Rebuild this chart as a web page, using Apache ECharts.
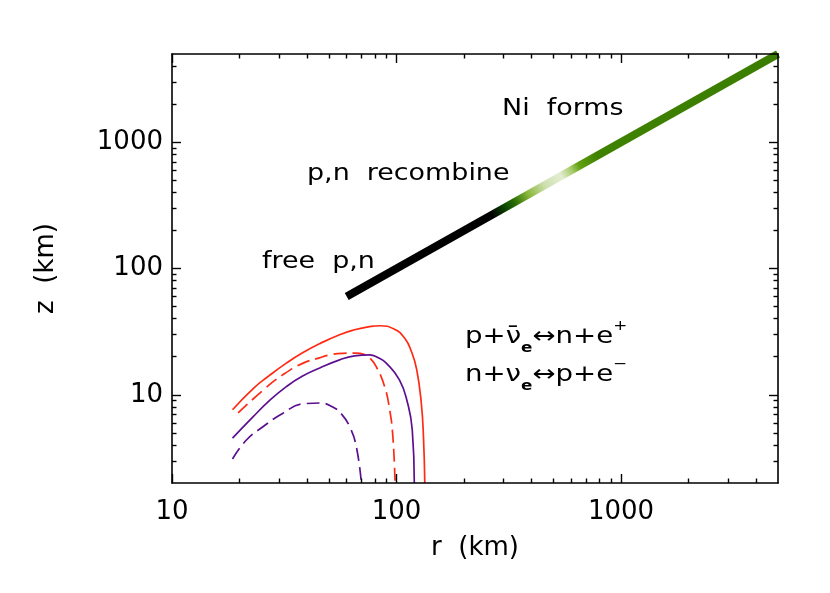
<!DOCTYPE html>
<html><head><meta charset="utf-8">
<script src="https://cdn.jsdelivr.net/npm/echarts@6/dist/echarts.min.js"></script>
<style>html,body{margin:0;padding:0;background:#fff}#c{width:830px;height:593px}</style>
</head><body><div id="c"></div>
<script>
// axis ticks
const xMajorTicks = [10, 100, 1000];
const yMajorTicks = [10, 100, 1000];
const xMinorTicks = [20,30,40,50,60,70,80,90,200,300,400,500,600,700,800,900,2000,3000,4000];
const yMinorTicks = [3,4,5,6,7,8,9,20,30,40,50,60,70,80,90,200,300,400,500,600,700,800,900,2000,3000,4000];

// red solid
const redSolidR = [18.6, 23, 27, 32.3, 38, 45.5, 55.8, 65, 75, 84, 97.9, 108.6, 116.6, 123, 128.9, 131.8, 133.6];
const redSolidZ = [7.6, 11.2, 14.1, 17.8, 21.4, 25.4, 29.9, 32.7, 34.5, 35.2, 33.0, 28.1, 21.9, 15.8, 8.6, 4.66, 2];
// red dashed
const redDashR = [19.7, 25.5, 31, 38.4, 45, 50.4, 58, 66, 72, 76, 81.2, 88.5, 93.2, 96.3, 98.5];
const redDashZ = [7.2, 10.9, 14.3, 17.8, 19.5, 20.7, 21.3, 21.4, 20.8, 19.6, 16.7, 11.6, 7.6, 4.66, 2];
// purple solid
const purpSolidR = [18.6, 23, 27, 32.3, 38, 45.5, 55.8, 65, 75.9, 83, 90, 103, 112, 117.5, 120];
const purpSolidZ = [4.53, 6.7, 8.9, 11.6, 14, 16.3, 18.9, 20.3, 20.7, 19.6, 17.8, 13.1, 8.6, 5.27, 2];
// purple dashed
const purpDashR = [18.6, 21.5, 25.5, 31.2, 38.4, 45.5, 52, 57, 61.8, 66.2, 69.7];
const purpDashZ = [3.1, 4.4, 5.6, 7.15, 8.47, 8.6, 8.0, 7.0, 5.6, 3.88, 2];
// diagonal track
const diagR = [60, 5000];
const diagZ = [60, 5000];
const diagStopR = [60, 270, 310, 340, 390, 460, 540, 600, 650, 780, 5000];
const diagStopColor = ['#000000','#000000','#0b4a00','#2b6e05','#8ab83a','#cfe0b0','#e3edd2','#a8cc6a','#62a010','#3f8200','#3a7d00'];

const FONT = '"DejaVu Sans", "Liberation Sans", sans-serif';
const zip = (a, b) => a.map((v, i) => [v, b[i]]);
const lmin = Math.log10(diagR[0]), lmax = Math.log10(diagR[diagR.length - 1]);
const colorStops = diagStopR.map((r, i) => ({offset: (Math.log10(r) - lmin) / (lmax - lmin), color: diagStopColor[i]}));

function axis(dir, pos, major, withLabel) {
  const isX = dir === 'x';
  return {
    type: 'log', logBase: 10, position: pos, gridIndex: 0,
    min: isX ? 10 : 2, max: 5000,
    axisLine: {show: major, onZero: false, lineStyle: {color: '#000', width: 1.6}},
    axisTick: {show: true, inside: true, length: major ? 9 : 4.5,
      customValues: major ? (isX ? xMajorTicks : yMajorTicks) : (isX ? xMinorTicks : yMinorTicks),
      lineStyle: {color: '#000', width: 1.4}},
    axisLabel: withLabel ? {show: true, customValues: isX ? xMajorTicks : yMajorTicks,
      formatter: v => String(Math.round(v)), color: '#000', fontSize: 26, fontFamily: FONT,
      margin: isX ? 16 : 9} : {show: false},
    splitLine: {show: false}, minorTick: {show: false}, minorSplitLine: {show: false},
    name: withLabel ? (isX ? 'r  (km)' : 'z  (km)') : '',
    nameLocation: 'middle', nameGap: isX ? 52 : 113,
    nameTextStyle: {color: '#000', fontSize: 26, fontFamily: FONT},
    z: 10
  };
}

const chart = echarts.init(document.getElementById('c'), null, {renderer: 'canvas'});
const txt = (s, x, y, sx) => ({type: 'text', x: x, y: y, scaleX: sx, z: 20,
  style: {text: s, font: '23px ' + FONT, fill: '#000', verticalAlign: 'middle', align: 'left'}});
const rich = {
  m: {fontSize: 23, fontFamily: FONT, color: '#000', lineHeight: 36, verticalAlign: 'middle'},
  s: {fontSize: 14, fontFamily: FONT, fontWeight: 'bold', color: '#000', lineHeight: 18, verticalAlign: 'bottom'},
  u: {fontSize: 14, fontFamily: FONT, color: '#000', lineHeight: 18, verticalAlign: 'top'}
};
const rtxt = (s, x, y, sx) => ({type: 'text', x: x, y: y, scaleX: sx, z: 20,
  style: {text: s, rich: rich, font: '23px ' + FONT, fill: '#000', verticalAlign: 'middle', align: 'left'}});

const curve = (r, z, color, dashed) => ({type: 'line', data: zip(r, z), showSymbol: false,
  smooth: 0.5,
  lineStyle: {width: 1.7, color: color, type: dashed ? [13, 6] : 'solid'}});

chart.setOption({
  animation: false,
  backgroundColor: '#fff',
  grid: {left: 172, right: 52, top: 54, bottom: 110, containLabel: false},
  xAxis: [axis('x', 'bottom', true, true), axis('x', 'bottom', false, false), axis('x', 'top', true, false), axis('x', 'top', false, false)],
  yAxis: [axis('y', 'left', true, true), axis('y', 'left', false, false), axis('y', 'right', true, false), axis('y', 'right', false, false)],
  series: [
    {type: 'line', data: zip(diagR, diagZ), showSymbol: false, clip: true,
     lineStyle: {width: 8, cap: 'butt', color: {type: 'linear', x: 0, y: 1, x2: 1, y2: 0, colorStops: colorStops}}},
    curve(redSolidR, redSolidZ, '#ff2a14', false),
    curve(redDashR, redDashZ, '#ff2a14', true),
    curve(purpSolidR, purpSolidZ, '#5c1090', false),
    curve(purpDashR, purpDashZ, '#5c1090', true)
  ],
  graphic: [
    txt('Ni  forms', 502, 109, 1.17),
    txt('p,n  recombine', 307, 174, 1.17),
    txt('free  p,n', 262, 262, 1.17),
    rtxt('{m|p+\u03BD\u0304}{s|e}{m|\u2194n+e}{u|+}', 465, 337, 1.2),
    rtxt('{m|n+\u03BD}{s|e}{m|\u2194p+e}{u|\u2212}', 465, 375, 1.2)
  ]
});
</script></body></html>
